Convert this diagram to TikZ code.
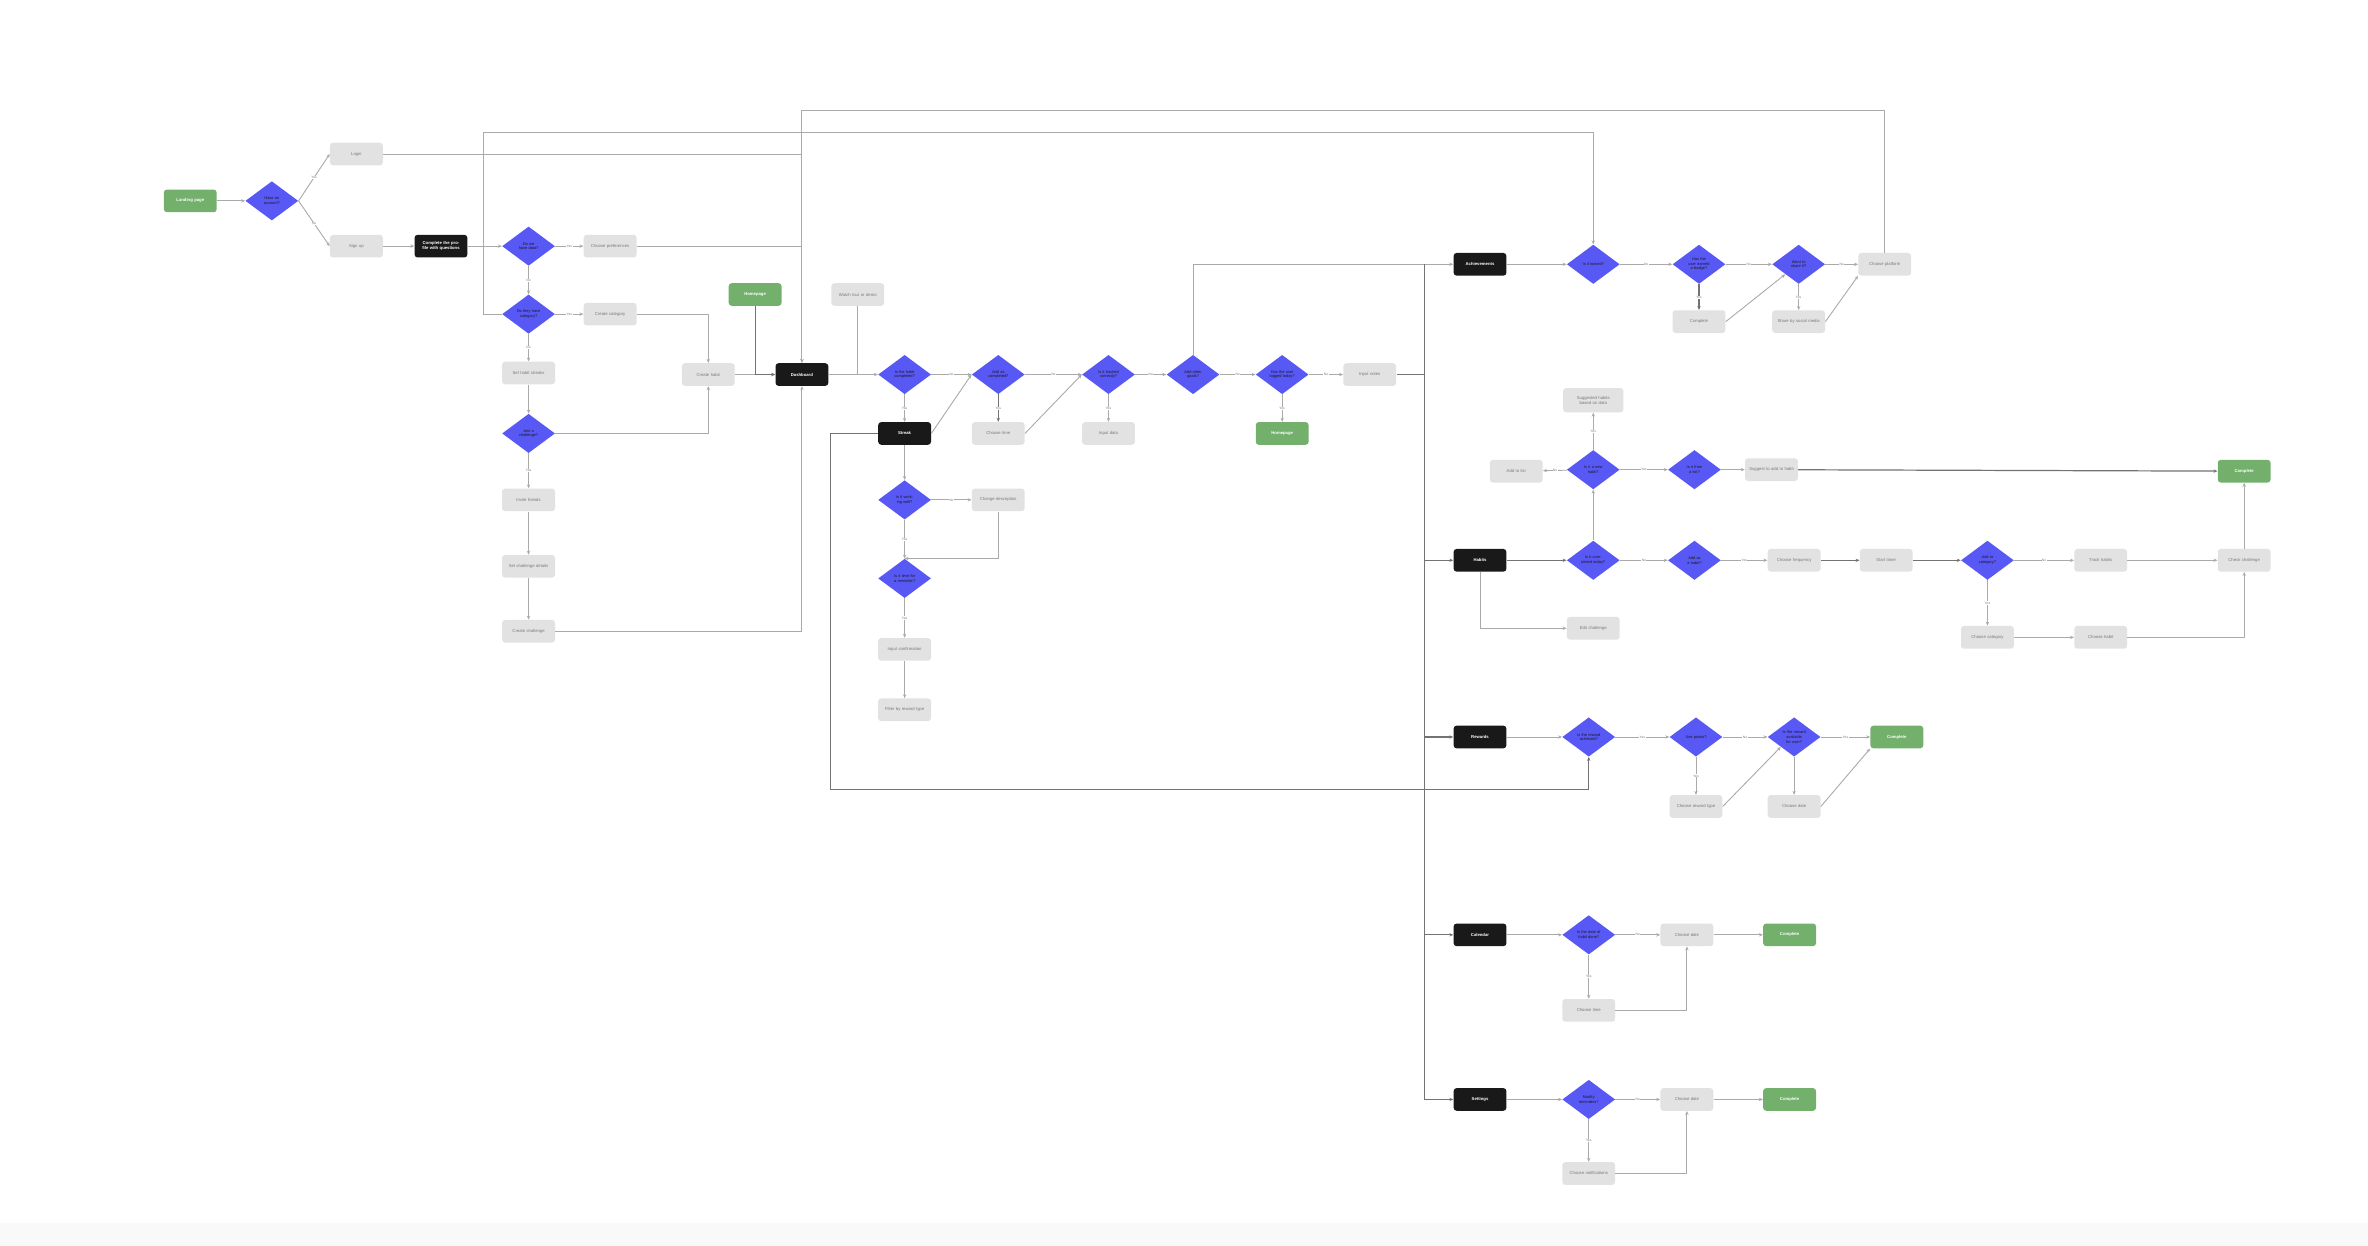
\documentclass[tikz,border=0pt]{standalone}
\usepackage{fontspec}
\setmainfont{Liberation Sans}
\usetikzlibrary{shapes.geometric,arrows.meta}
\definecolor{gfill}{RGB}{114,176,108}
\definecolor{dfill}{RGB}{88,88,245}
\definecolor{kfill}{RGB}{25,25,25}
\definecolor{bfill}{RGB}{226,226,226}
\definecolor{lcol}{RGB}{170,170,170}
\definecolor{dcol}{RGB}{115,115,115}
\definecolor{tcol}{RGB}{120,120,120}
\tikzset{
  base/.style={rectangle, rounded corners=2pt, minimum width=35pt, minimum height=15pt, text width=32pt, align=center, inner sep=0.5pt, font=\fontsize{2.8}{3.3}\selectfont},
  box/.style={base, fill=bfill, text=tcol},
  blk/.style={base, fill=kfill, text=white, font=\fontsize{2.8}{3.3}\selectfont\bfseries},
  grn/.style={base, fill=gfill, text=white, font=\fontsize{2.8}{3.3}\selectfont\bfseries},
  dia/.style={diamond, aspect=1.35, fill=dfill, minimum width=35pt, minimum height=26pt, inner sep=0pt, text width=17pt, align=center, text=kfill, font=\fontsize{2.6}{3.1}\selectfont},
  ln/.style={draw=lcol, line width=0.6pt},
  dk/.style={draw=dcol, line width=0.8pt},
  arr/.style={ln, -{Stealth[length=2.6pt,width=2.2pt]}},
  darr/.style={dk, -{Stealth[length=2.6pt,width=2.2pt]}},
  lbl/.style={fill=white, inner sep=0.3pt, text=tcol, font=\fontsize{2.2}{2.5}\selectfont}
}
\begin{document}
\begin{tikzpicture}[x=1pt,y=-1pt]
\useasboundingbox (0,0) rectangle (1568,825);
\fill[white] (0,0) rectangle (1568,825);
\fill[gray!5] (0,810) rectangle (1568,825);

% ---------- onboarding ----------
\node[grn] (start) at (126,133) {Landing page};
\node[dia] (d0) at (180,133) {Have an account?};
\node[box] (login) at (236,102) {Login};
\node[box] (signup) at (236,163) {Sign up};
\node[blk] (onb) at (292,163) {Complete the profile with questions};
\node[dia] (d1) at (350,163) {Do we have data?};
\node[box] (pref) at (404,163) {Choose preferences};
\node[dia] (d2) at (350,208) {Do they have category?};
\node[box] (cat) at (404,208) {Create category};
\node[box] (streaks) at (350,247) {Set habit streaks};
\node[box] (habit) at (469,248) {Create habit};
\node[dia] (d3) at (350,287) {Join a challenge?};
\node[box] (invite) at (350,331) {Invite friends};
\node[box] (details) at (350,375) {Set challenge details};
\node[box] (chal) at (350,418) {Create challenge};
\node[grn] (home) at (500,195) {Homepage};
\node[box] (video) at (568,195) {Watch tour or demo};
\node[blk] (dash) at (531,248) {Dashboard};

% ---------- dashboard row ----------
\node[dia] (dA) at (599,248) {Is the habit completed?};
\node[blk] (streak) at (599,287) {Streak};
\node[dia] (dA1) at (599,331) {Is it working well?};
\node[box] (desc) at (661,331) {Change description};
\node[dia] (dA2) at (599,383) {Is it time for a reminder?};
\node[box] (confirm) at (599,430) {Input confirmation};
\node[box] (filter) at (599,470) {Filter by reward type};
\node[dia] (dB) at (661,248) {Add as completed?};
\node[box] (time) at (661,287) {Choose time};
\node[dia] (dC) at (734,248) {Is it tracked correctly?};
\node[box] (input) at (734,287) {Input data};
\node[dia] (dD) at (790,248) {Add other goals?};
\node[dia] (dE) at (849,248) {Has the user logged today?};
\node[grn] (home2) at (849,287) {Homepage};
\node[box] (notes) at (907,248) {Input notes};

\coordinate (tT) at (943,175);
\coordinate (tM) at (943,248);
\coordinate (tB) at (943,728);

% ---------- achievements row ----------
\node[blk] (ach) at (980,175) {Achievements};
\node[dia] (dF) at (1055,175) {Is it locked?};
\node[dia] (dG) at (1125,175) {Has the user earned a badge?};
\node[box] (cmp) at (1125,213) {Complete};
\node[dia] (dH) at (1191,175) {Want to share it?};
\node[box] (share) at (1191,213) {Share by social media};
\node[box] (avail) at (1248,175) {Choose platform};

% ---------- habits row ----------
\node[blk] (hab) at (980,371) {Habits};
\node[dia] (dI) at (1055,311) {Is it a new habit?};
\node[box] (add) at (1004,312) {Add to list};
\node[box, minimum width=40pt, text width=37pt, minimum height=16pt] (sug) at (1055,265) {Suggested habits based on data};
\node[dia] (dI2) at (1122,311) {Is it from a list?};
\node[box] (sugbox) at (1173,311) {Suggest to add to habit};
\node[grn] (g3) at (1486,312) {Complete};
\node[dia] (dJ) at (1055,371) {Is it completed today?};
\node[dia] (dK) at (1122,371) {Add as a habit?};
\node[box] (food) at (1188,371) {Choose frequency};
\node[box] (timer) at (1249,371) {Start timer};
\node[dia] (dL) at (1316,371) {Add to category?};
\node[box] (track) at (1391,371) {Track habits};
\node[box] (check) at (1486,371) {Check challenge};
\node[box] (cat2) at (1316,422) {Choose category};
\node[box] (hab2) at (1391,422) {Choose habit};
\node[box] (edit) at (1055,416) {Edit challenge};

% ---------- rewards row ----------
\node[blk] (rew) at (980,488) {Rewards};
\node[dia] (dM) at (1052,488) {Is the reward achieved?};
\node[dia] (dN) at (1123,488) {Use points?};
\node[dia] (dO) at (1188,488) {Is the reward available for user?};
\node[grn] (g4) at (1256,488) {Complete};
\node[box] (rtype) at (1123,534) {Choose reward type};
\node[box] (date3) at (1188,534) {Choose date};

% ---------- calendar row ----------
\node[blk] (cal) at (980,619) {Calendar};
\node[dia] (dP) at (1052,619) {Is the date of habit done?};
\node[box] (date4) at (1117,619) {Choose date};
\node[grn] (g5) at (1185,619) {Complete};
\node[box] (time4) at (1052,669) {Choose time};

% ---------- settings row ----------
\node[blk] (set) at (980,728) {Settings};
\node[dia] (dQ) at (1052,728) {Modify reminders?};
\node[box] (date5) at (1117,728) {Choose date};
\node[grn] (g6) at (1185,728) {Complete};
\node[box] (notif) at (1052,777) {Choose notifications};

\coordinate (top1) at (531,73);
\coordinate (top2) at (320,88);
\coordinate (top2r) at (1055,88);
\coordinate (lp1) at (550,523);

% ---------- connectors: onboarding ----------
\draw[arr] (start) -- (d0);
\draw[arr] (d0.east) -- node[lbl]{Yes} (login.west);
\draw[arr] (d0.east) -- node[lbl]{No} (signup.west);
\draw[arr] (signup) -- (onb);
\draw[arr] (onb) -- (d1);
\draw[arr] (d1) -- node[lbl]{Yes} (pref);
\draw[ln] (pref.east) -- (pref.east -| dash.north);
\draw[arr] (login.east) -| (dash.north);
\draw[arr] (avail.north) |- (top1) -- (dash.north);
\draw[arr] (d2.west) -| (top2) -- (top2r) -- (dF.north);
\draw[arr] (d1) -- node[lbl]{No} (d2);
\draw[arr] (d2) -- node[lbl]{Yes} (cat);
\draw[arr] (cat.east) -| (habit.north);
\draw[arr] (d2) -- node[lbl]{No} (streaks);
\draw[arr] (streaks) -- (d3);
\draw[arr] (d3.east) -| (habit.south);
\draw[arr] (d3) -- node[lbl]{Yes} (invite);
\draw[arr] (invite) -- (details);
\draw[arr] (details) -- (chal);
\draw[arr] (chal.east) -| (dash.south);
\draw[arr] (habit) -- (dash);
\draw[darr] (home.south) |- (dash.west);

% ---------- connectors: dashboard row ----------
\draw[arr] (dash) -- (dA);
\draw[ln] (video.south) -- (video.south |- dash.east);
\draw[arr] (dA) -- node[lbl]{No} (dB);
\draw[arr] (dA) -- node[lbl]{Yes} (streak);
\draw[arr] (streak.east) -- (dB.west);
\draw[arr] (streak) -- (dA1);
\draw[arr] (dA1) -- node[lbl]{No} (desc);
\draw[arr] (desc.south) |- (dA2.north);
\draw[arr] (dA1) -- node[lbl]{Yes} (dA2);
\draw[arr] (dA2) -- node[lbl]{Yes} (confirm);
\draw[arr] (confirm) -- (filter);
\draw[darr] (streak.west) -| (lp1) -| (dM.south);
\draw[arr] (dB) -- node[lbl]{No} (dC);
\draw[darr] (dB) -- node[lbl]{Yes} (time);
\draw[arr] (time.east) -- (dC.west);
\draw[arr] (dC) -- node[lbl]{No} (dD);
\draw[arr] (dC) -- node[lbl]{Yes} (input);
\draw[arr] (dD) -- node[lbl]{No} (dE);
\draw[arr] (dD.north) |- (ach.west);
\draw[arr] (dE) -- node[lbl]{No} (notes);
\draw[arr] (dE) -- node[lbl]{Yes} (home2);
\draw[dk] (notes.east) -- (tM);
\draw[dk] (tT) -- (tB);
\draw[darr] (tM) |- (hab.west);
\draw[darr] (tM) |- (rew.west);
\draw[darr] (tM) |- (cal.west);
\draw[darr] (tM) |- (set.west);

% ---------- achievements ----------
\draw[arr] (ach) -- (dF);
\draw[arr] (dF) -- node[lbl]{No} (dG);
\draw[arr] (dG) -- node[lbl]{No} (dH);
\draw[arr] (dH) -- node[lbl]{No} (avail);
\draw[darr] (dG) -- node[lbl]{Yes} (cmp);
\draw[arr] (cmp.east) -- (dH.south west);
\draw[arr] (dH) -- node[lbl]{Yes} (share);
\draw[arr] (share.east) -- (avail.south west);

% ---------- habits ----------
\draw[darr] (hab) -- (dJ);
\draw[arr] (dJ) -- node[lbl]{No} (dK);
\draw[arr] (dK) -- node[lbl]{Yes} (food);
\draw[darr] (food) -- (timer);
\draw[darr] (timer) -- (dL);
\draw[arr] (dL) -- node[lbl]{No} (track);
\draw[arr] (track) -- (check);
\draw[arr] (dJ) -- (dI);
\draw[arr] (dI) -- node[lbl]{No} (add);
\draw[arr] (dI) -- node[lbl]{Yes} (sug);
\draw[arr] (dI) -- node[lbl]{Yes} (dI2);
\draw[arr] (dI2) -- (sugbox);
\draw[darr] (sugbox) -- (g3);
\draw[arr] (check) -- (g3);
\draw[arr] (dL) -- node[lbl]{Yes} (cat2);
\draw[arr] (cat2) -- (hab2);
\draw[arr] (hab2.east) -| (check.south);
\draw[arr] (hab.south) |- (edit.west);

% ---------- rewards ----------
\draw[arr] (rew) -- (dM);
\draw[arr] (dM) -- node[lbl]{Yes} (dN);
\draw[arr] (dN) -- node[lbl]{No} (dO);
\draw[arr] (dO) -- node[lbl]{Yes} (g4);
\draw[arr] (dN) -- node[lbl]{Yes} (rtype);
\draw[arr] (rtype.east) -- (dO.south west);
\draw[arr] (dO) -- (date3);
\draw[arr] (date3.east) -- (g4.south west);

% ---------- calendar ----------
\draw[arr] (cal) -- (dP);
\draw[arr] (dP) -- node[lbl]{No} (date4);
\draw[arr] (date4) -- (g5);
\draw[arr] (dP) -- node[lbl]{Yes} (time4);
\draw[arr] (time4.east) -| (date4.south);

% ---------- settings ----------
\draw[arr] (set) -- (dQ);
\draw[arr] (dQ) -- node[lbl]{No} (date5);
\draw[arr] (date5) -- (g6);
\draw[arr] (dQ) -- node[lbl]{Yes} (notif);
\draw[arr] (notif.east) -| (date5.south);
\end{tikzpicture}
\end{document}
